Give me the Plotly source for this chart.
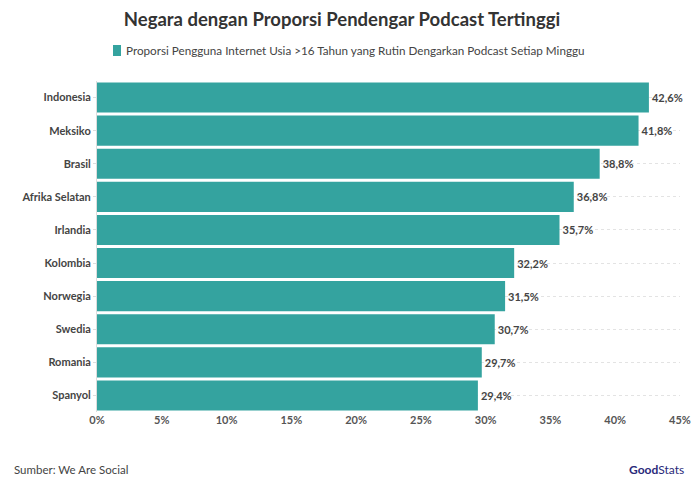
import plotly.graph_objects as go

countries = ["Indonesia", "Meksiko", "Brasil", "Afrika Selatan", "Irlandia",
             "Kolombia", "Norwegia", "Swedia", "Romania", "Spanyol"]
values = [42.6, 41.8, 38.8, 36.8, 35.7, 32.2, 31.5, 30.7, 29.7, 29.4]
labels = [f"<b>{v:.1f}%</b>".replace(".", ",") for v in values]
tick_vals = [0, 5, 10, 15, 20, 25, 30, 35, 40, 45]
tick_text = [f"<b>{t}%</b>" for t in tick_vals]

teal = "#34a39f"
font = "Lato"

fig = go.Figure()
fig.add_trace(go.Bar(
    x=values, y=[f"<b>{c}</b>" for c in countries], orientation="h",
    marker=dict(color=teal, line=dict(width=0)),
    text=labels, textposition="outside",
    textfont=dict(family=font, size=11, color="#444444"),
    cliponaxis=False,
    showlegend=False,
    hoverinfo="skip",
))

fig.update_layout(
    width=692, height=477,
    margin=dict(l=97, r=12, t=81, b=65, autoexpand=False),
    paper_bgcolor="white", plot_bgcolor="white",
    bargap=0.09,
    font=dict(family=font, color="#333333"),
    title=dict(text="<b>Negara dengan Proporsi Pendengar Podcast Tertinggi</b>",
               x=342 / 692, xanchor="center", y=1 - 20 / 477, yanchor="middle",
               font=dict(family=font, size=18.5, color="#333333")),
    xaxis=dict(range=[0, 45], tickvals=tick_vals, ticktext=tick_text,
               showgrid=False, zeroline=False, showline=False, automargin=False,
               tickfont=dict(family=font, size=11, color="#555555"), ticks=""),
    yaxis=dict(autorange="reversed", showgrid=True, gridcolor="#e3e3e3",
               griddash="dot", gridwidth=1, automargin=False,
               showline=True, linecolor="#dddddd", linewidth=1,
               tickfont=dict(family=font, size=11, color="#444444"),
               ticks="outside", ticklen=3, tickcolor="#dddddd"),
    annotations=[
        dict(text="Proporsi Pengguna Internet Usia >16 Tahun yang Rutin Dengarkan Podcast Setiap Minggu",
             xref="paper", yref="paper", x=0.0463, y=1.094, xanchor="left", yanchor="middle",
             showarrow=False, font=dict(family=font, size=11.7, color="#444444")),
        dict(text="Sumber: We Are Social", xref="paper", yref="paper",
             x=-0.1458, y=-0.175, xanchor="left", yanchor="middle", showarrow=False,
             font=dict(family=font, size=11.5, color="#444444")),
        dict(text="<b>Good</b>Stats", xref="paper", yref="paper",
             x=1.0103, y=-0.175, xanchor="right", yanchor="middle", showarrow=False,
             font=dict(family=font, size=12, color="#2a2a7a")),
    ],
    shapes=[
        dict(type="rect", xref="paper", yref="paper",
             x0=0.0274, x1=0.0412, y0=1.0755, y1=1.1088,
             fillcolor=teal, line=dict(width=0)),
    ],
)

fig.write_html("out.html",
               config={"displayModeBar": False},
               post_script="document.body.style.margin='0';document.body.style.overflow='hidden';")
